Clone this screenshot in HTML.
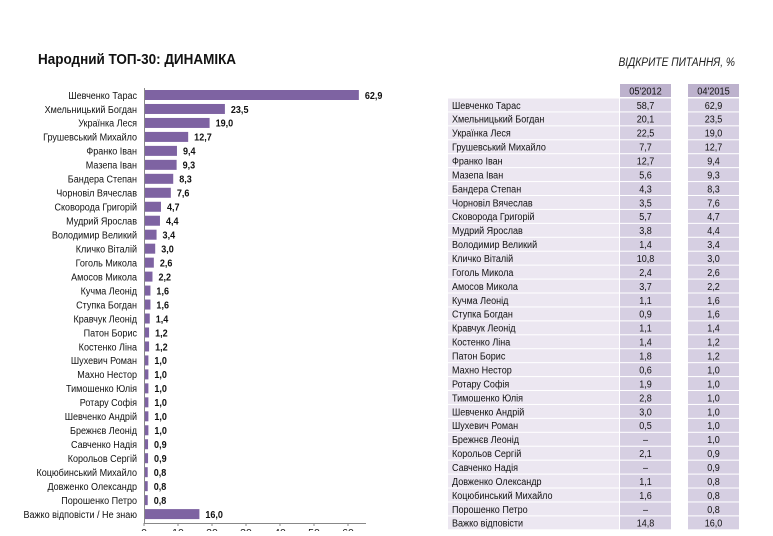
<!DOCTYPE html><html><head><meta charset="utf-8"><style>
body{margin:0;background:#fff;width:773px;height:531px;overflow:hidden}
text{font-family:"Liberation Sans",sans-serif}
.l{font-size:10.5px;fill:#111}
.v{font-size:10.5px;font-weight:bold;fill:#111}
.t{font-size:10.5px;fill:#111}
</style></head><body>
<svg width="773" height="531" viewBox="0 0 773 531" xmlns="http://www.w3.org/2000/svg">
<text x="38" y="64" transform="translate(38,64) scale(0.9,1) translate(-38,-64)" style="font-size:15px;font-weight:bold;fill:#111">Народний ТОП-30: ДИНАМІКА</text>
<text x="735" y="66" text-anchor="end" transform="translate(735,66) scale(0.85,1) translate(-735,-66)" style="font-size:12px;font-style:italic;fill:#222">ВІДКРИТЕ ПИТАННЯ, %</text>
<g id="left"></g>
<g id="tbl"></g>
</svg>
<script>
var L=[["Шевченко Тарас",62.9],["Хмельницький Богдан",23.5],["Українка Леся",19.0],["Грушевський Михайло",12.7],["Франко Іван",9.4],["Мазепа Іван",9.3],["Бандера Степан",8.3],["Чорновіл Вячеслав",7.6],["Сковорода Григорій",4.7],["Мудрий Ярослав",4.4],["Володимир Великий",3.4],["Кличко Віталій",3.0],["Гоголь Микола",2.6],["Амосов Микола",2.2],["Кучма Леонід",1.6],["Ступка Богдан",1.6],["Кравчук Леонід",1.4],["Патон Борис",1.2],["Костенко Ліна",1.2],["Шухевич Роман",1.0],["Махно Нестор",1.0],["Тимошенко Юлія",1.0],["Ротару Софія",1.0],["Шевченко Андрій",1.0],["Брежнєв Леонід",1.0],["Савченко Надія",0.9],["Корольов Сергій",0.9],["Коцюбинський Михайло",0.8],["Довженко Олександр",0.8],["Порошенко Петро",0.8],["Важко відповісти / Не знаю",16.0]];
var T=[["Шевченко Тарас","58,7","62,9"],["Хмельницький Богдан","20,1","23,5"],["Українка Леся","22,5","19,0"],["Грушевський Михайло","7,7","12,7"],["Франко Іван","12,7","9,4"],["Мазепа Іван","5,6","9,3"],["Бандера Степан","4,3","8,3"],["Чорновіл Вячеслав","3,5","7,6"],["Сковорода Григорій","5,7","4,7"],["Мудрий Ярослав","3,8","4,4"],["Володимир Великий","1,4","3,4"],["Кличко Віталій","10,8","3,0"],["Гоголь Микола","2,4","2,6"],["Амосов Микола","3,7","2,2"],["Кучма Леонід","1,1","1,6"],["Ступка Богдан","0,9","1,6"],["Кравчук Леонід","1,1","1,4"],["Костенко Ліна","1,4","1,2"],["Патон Борис","1,8","1,2"],["Махно Нестор","0,6","1,0"],["Ротару Софія","1,9","1,0"],["Тимошенко Юлія","2,8","1,0"],["Шевченко Андрій","3,0","1,0"],["Шухевич Роман","0,5","1,0"],["Брежнєв Леонід","–","1,0"],["Корольов Сергій","2,1","0,9"],["Савченко Надія","–","0,9"],["Довженко Олександр","1,1","0,8"],["Коцюбинський Михайло","1,6","0,8"],["Порошенко Петро","–","0,8"],["Важко відповісти","14,8","16,0"]];
var NS="http://www.w3.org/2000/svg";
function el(p,n,a,txt){var e=document.createElementNS(NS,n);for(var k in a)e.setAttribute(k,a[k]);if(txt!=null)e.textContent=txt;p.appendChild(e);return e;}
function sx(x,y,s){return "translate("+x+","+y+") scale("+s+",1) translate("+(-x)+","+(-y)+")";}
var g=document.getElementById("left");
var x0=144,k=3.40;
el(g,"line",{x1:x0+.5,y1:88,x2:x0+.5,y2:523,stroke:"#888","stroke-width":1});
el(g,"line",{x1:x0,y1:523.5,x2:366,y2:523.5,stroke:"#888","stroke-width":1});
for(var t=0;t<=60;t+=10){var xx=x0+t*k;el(g,"line",{x1:xx,y1:523,x2:xx,y2:526,stroke:"#888"});el(g,"text",{x:xx,y:536,"text-anchor":"middle",class:"l"},t);}
L.forEach(function(r,i){var cy=95+i*13.97;
el(g,"rect",{x:x0+1,y:cy-5,width:Math.max(r[1]*k,2.5),height:10,fill:"#7e63a2"});
el(g,"text",{x:137,y:cy+3.8,"text-anchor":"end",class:"l",transform:sx(137,cy,0.86)},r[0]);
var vx=x0+r[1]*k+7;el(g,"text",{x:vx,y:cy+3.8,class:"v",transform:sx(vx,cy,0.86)},r[1].toFixed(1).replace(".",","));
});
var h=document.getElementById("tbl");
el(h,"rect",{x:620,y:84,width:51,height:13,fill:"#bdb2cd"});
el(h,"rect",{x:688,y:84,width:51,height:13,fill:"#bdb2cd"});
el(h,"text",{x:645.5,y:94.5,"text-anchor":"middle",class:"t",transform:sx(645.5,94,0.88)},"05'2012");
el(h,"text",{x:713.5,y:94.5,"text-anchor":"middle",class:"t",transform:sx(713.5,94,0.88)},"04'2015");
T.forEach(function(r,i){var top=98.5+i*13.93,cy=top+6.5;
el(h,"rect",{x:448,y:top,width:171,height:12.9,fill:"#ece7f1"});
el(h,"rect",{x:620,y:top,width:51,height:12.9,fill:"#d6cfe2"});
el(h,"rect",{x:688,y:top,width:51,height:12.9,fill:"#d6cfe2"});
el(h,"text",{x:452,y:cy+3.8,class:"t",transform:sx(452,cy,0.86)},r[0]);
el(h,"text",{x:645.5,y:cy+3.8,"text-anchor":"middle",class:"t",transform:sx(645.5,cy,0.86)},r[1]);
el(h,"text",{x:713.5,y:cy+3.8,"text-anchor":"middle",class:"t",transform:sx(713.5,cy,0.86)},r[2]);
});
</script>
</body></html>
